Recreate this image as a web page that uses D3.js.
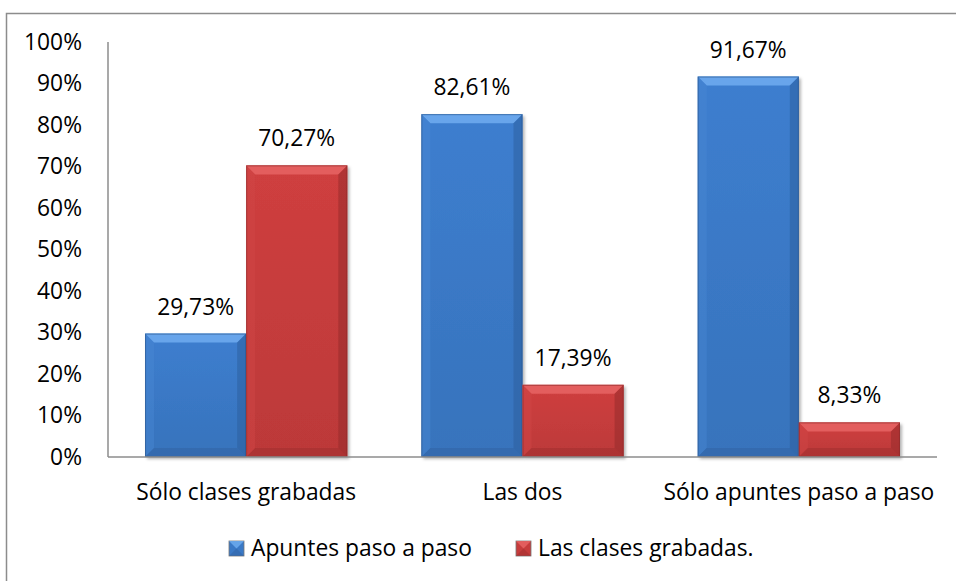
<!DOCTYPE html>
<html><head><meta charset="utf-8">
<script src="https://cdn.jsdelivr.net/npm/d3@7"></script>
<style>body{margin:0;background:#fff}svg{display:block;font-family:"Open Sans",sans-serif}</style>
</head><body><svg id="c" width="956" height="581"></svg>
<script>
const categories = ["Sólo clases grabadas", "Las dos", "Sólo apuntes paso a paso"];
const seriesNames = ["Apuntes paso a paso", "Las clases grabadas."];
const apuntes = [29.73, 82.61, 91.67];
const grabadas = [70.27, 17.39, 8.33];
const yTicks = [0, 10, 20, 30, 40, 50, 60, 70, 80, 90, 100];

const svg = d3.select("#c");
const W = 956, H = 581;
const m = {l:108, r:19, t:42, b:124};
const pw = W - m.l - m.r, ph = H - m.t - m.b;
const FS = 22.8;

const pal = [
  {main:"#3a79c6", top:"#6aa8ec", left:"#4a88d2", right:"#2b5d9c", bot:"#2f62a2", edge:"#2a558a"},
  {main:"#c63c3c", top:"#e46060", left:"#d04848", right:"#922a2a", bot:"#9e2e2e", edge:"#8a2a2a"}
];

const defs = svg.append("defs");
const f = defs.append("filter").attr("id","sh").attr("x","-10%").attr("y","-10%").attr("width","130%").attr("height","130%");
f.append("feDropShadow").attr("dx",2).attr("dy",2).attr("stdDeviation",1.5).attr("flood-color","#000").attr("flood-opacity",0.3);
pal.forEach((p,i)=>{
  const g = defs.append("linearGradient").attr("id","g"+i).attr("x1",0).attr("x2",0).attr("y1",0).attr("y2",1);
  g.append("stop").attr("offset","0%").attr("stop-color",d3.color(p.main).brighter(0.12));
  g.append("stop").attr("offset","100%").attr("stop-color",d3.color(p.main).darker(0.15));
});

// outer border
svg.append("path").attr("d",`M6.5,${H+5}V13.5H${W+5}`).attr("fill","none").attr("stroke","#8c8c8c").attr("stroke-width",1.5);

const x0 = d3.scaleBand().domain(categories).range([m.l, m.l+pw]).paddingInner(0.268).paddingOuter(0.134);
const x1 = d3.scaleBand().domain([0,1]).range([0, x0.bandwidth()]);
const y = d3.scaleLinear().domain([0,100]).range([m.t+ph, m.t]);

const fmt = v => v.toFixed(2).replace(".", ",") + "%";

// y tick labels
svg.append("g").selectAll("text").data(yTicks).join("text")
  .attr("x", 82).attr("y", d=>y(d)+7.5).attr("text-anchor","end")
  .attr("font-size",FS).attr("fill","#000").text(d=>d+"%");

const data = [];
categories.forEach((c,i)=>{ data.push({c, s:0, v:apuntes[i]}); data.push({c, s:1, v:grabadas[i]}); });

const bars = svg.append("g").selectAll("g").data(data).join("g");
bars.each(function(d){
  const g = d3.select(this);
  const p = pal[d.s];
  const xa = x0(d.c) + x1(d.s), w = x1.bandwidth();
  const ya = y(d.v), yb = y(0), h = yb - ya;
  const b = Math.min(9, h/2.5, w/4);
  const xb = xa + w;
  g.append("rect").attr("x",xa).attr("y",ya).attr("width",w).attr("height",h)
    .attr("fill",`url(#g${d.s})`).attr("filter","url(#sh)");
  const poly = (pts, fill, op) => g.append("polygon").attr("points", pts.map(q=>q.join(",")).join(" ")).attr("fill",fill).attr("opacity",op||1);
  poly([[xa,ya],[xb,ya],[xb-b,ya+b],[xa+b,ya+b]], p.top, 0.95);
  poly([[xa,ya],[xa+b,ya+b],[xa+b,yb-b],[xa,yb]], p.left, 0.45);
  poly([[xb,ya],[xb,yb],[xb-b,yb-b],[xb-b,ya+b]], p.right, 0.5);
  poly([[xa,yb],[xa+b,yb-b],[xb-b,yb-b],[xb,yb]], p.bot, 0.5);
  g.append("rect").attr("x",xa+0.5).attr("y",ya+0.5).attr("width",w-1).attr("height",h-1)
    .attr("fill","none").attr("stroke",p.edge).attr("stroke-width",1).attr("opacity",0.6);
  g.append("text").attr("x",xa+w/2).attr("y",ya-19).attr("text-anchor","middle")
    .attr("font-size",FS).attr("fill","#000").text(fmt(d.v));
});

// axes
svg.append("line").attr("x1",m.l).attr("x2",m.l).attr("y1",m.t).attr("y2",m.t+ph).attr("stroke","#8c8c8c").attr("stroke-width",1.5);
svg.append("line").attr("x1",m.l).attr("x2",m.l+pw).attr("y1",m.t+ph).attr("y2",m.t+ph).attr("stroke","#8c8c8c").attr("stroke-width",1.5);

// category labels
svg.append("g").selectAll("text").data(categories).join("text")
  .attr("x", d=>x0(d)+x0.bandwidth()/2).attr("y", 500).attr("text-anchor","middle")
  .attr("font-size",FS).attr("fill","#000").text(d=>d);

// legend
const lx = [229, 516];
const lg = svg.append("g").selectAll("g").data(seriesNames).join("g")
  .attr("transform",(d,i)=>`translate(${lx[i]},541)`);
lg.each(function(d,i){
  const g = d3.select(this), p = pal[i];
  g.append("rect").attr("x",0).attr("y",0).attr("width",15).attr("height",15).attr("fill",p.main).attr("stroke","#777").attr("stroke-width",0.8);
  g.append("polygon").attr("points","0,0 15,0 7.5,7.5").attr("fill",p.top).attr("opacity",0.9);
  g.append("polygon").attr("points","0,15 15,15 7.5,7.5").attr("fill",p.bot).attr("opacity",0.5);
  g.append("text").attr("x",22).attr("y",15).attr("font-size",FS).attr("fill","#000").text(d);
});
</script></body></html>
